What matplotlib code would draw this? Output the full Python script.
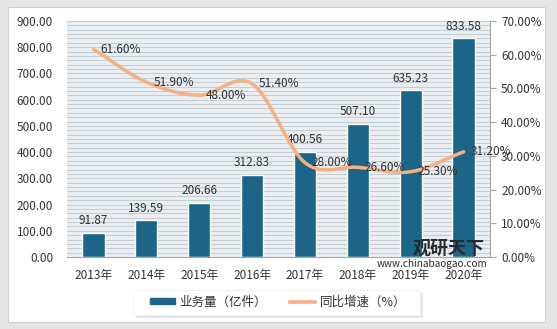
import numpy as np
import matplotlib
matplotlib.use("Agg")
import matplotlib.pyplot as plt
from matplotlib.patches import Rectangle
from matplotlib.lines import Line2D
from matplotlib.patches import Patch

plt.rcParams['font.family'] = ['Noto Sans CJK SC', 'DejaVu Sans']

years = ["2013年", "2014年", "2015年", "2016年", "2017年", "2018年", "2019年", "2020年"]
volume = [91.87, 139.59, 206.66, 312.83, 400.56, 507.10, 635.23, 833.58]
growth = [61.60, 51.90, 48.00, 51.40, 28.00, 26.60, 25.30, 31.20]
left_ticks = [0, 100, 200, 300, 400, 500, 600, 700, 800, 900]
right_ticks = [0, 10, 20, 30, 40, 50, 60, 70]

bar_color = "#1b6688"
line_color = "#f5b083"
text_color = "#333333"

W, H = 557, 329
fig = plt.figure(figsize=(W / 100, H / 100), dpi=100)
fig.patch.set_facecolor("#e4e4e4")
bg = Rectangle((8 / W, 1 - 322 / H), (545 - 8) / W, (322 - 7) / H,
               transform=fig.transFigure, facecolor="white",
               edgecolor="#d0d0d0", lw=0.8, zorder=-10)
fig.patches.append(bg)

ax = fig.add_axes([67 / W, 1 - 257 / H, (490 - 67) / W, (257 - 21) / H])
ax.set_facecolor("#e8eef2")
x = np.arange(len(years))

# dense horizontal background lines
for v in np.arange(0, 900.01, 100 / 6):
    ax.axhline(v, color="#c3ccd3", lw=0.7, zorder=0)

ax.bar(x, volume, width=0.42, color=bar_color, edgecolor="white", lw=1.0, zorder=2)
for xi, v in zip(x, volume):
    ax.annotate(f"{v:.2f}", (xi, v), xytext=(0, 4), textcoords="offset points",
                ha="center", va="bottom", fontsize=8.5, color=text_color, zorder=5)

ax.set_xlim(-0.5, len(years) - 0.5)
ax.set_ylim(0, 900)
ax.set_yticks(left_ticks)
ax.set_yticklabels([f"{t:.2f}" for t in left_ticks], fontsize=8.5, color=text_color)
ax.set_xticks(x)
ax.set_xticklabels(years, fontsize=8.5, color=text_color)
ax.tick_params(axis="y", length=0, pad=10)
ax.tick_params(axis="x", length=0, pad=9)
for s in ["top", "right", "left"]:
    ax.spines[s].set_visible(False)
ax.spines["bottom"].set_color("#a6a6a6")

ax2 = ax.twinx()
ax2.set_ylim(0, 70)
ax2.set_yticks(right_ticks)
ax2.set_yticklabels([f"{t:.2f}%" for t in right_ticks], fontsize=8.5, color=text_color)
ax2.tick_params(axis="y", length=4, color="#a6a6a6", pad=4)
for s in ["top", "left", "bottom"]:
    ax2.spines[s].set_visible(False)
ax2.spines["right"].set_color("#a6a6a6")

# smoothed line (Catmull-Rom through the data points)
def catmull(xs, ys, n=30):
    px = np.concatenate([[2 * xs[0] - xs[1]], xs, [2 * xs[-1] - xs[-2]]])
    py = np.concatenate([[2 * ys[0] - ys[1]], ys, [2 * ys[-1] - ys[-2]]])
    ox, oy = [], []
    for i in range(1, len(px) - 2):
        t = np.linspace(0, 1, n, endpoint=False)
        for arr, out in ((px, ox), (py, oy)):
            p0, p1, p2, p3 = arr[i - 1], arr[i], arr[i + 1], arr[i + 2]
            out.extend(0.5 * ((2 * p1) + (-p0 + p2) * t + (2 * p0 - 5 * p1 + 4 * p2 - p3) * t ** 2
                              + (-p0 + 3 * p1 - 3 * p2 + p3) * t ** 3))
    ox.append(px[-2]); oy.append(py[-2])
    return np.array(ox), np.array(oy)

sx, sy = catmull(x.astype(float), np.array(growth, dtype=float))
ax2.plot(sx, sy, color=line_color, lw=2.5, solid_capstyle="round", zorder=3)
for xi, g in zip(x, growth):
    ax2.annotate(f"{g:.2f}%", (xi, g), xytext=(5, 0), textcoords="offset points",
                 ha="left", va="center", fontsize=8.5, color=text_color, zorder=5)

# watermark
fig.text(449 / W, 1 - 248 / H, "观研天下", fontsize=13, fontweight="bold", color="#2a2a2a",
         ha="center", va="center", zorder=6)
fig.text(432 / W, 1 - 264 / H, "www.chinabaogao.com", fontsize=7.2, color="#2a2a2a",
         ha="center", va="center", zorder=6)

# legend box with a soft shadow
fig.patches.append(Rectangle((136 / W, 1 - 318 / H), (420 - 133) / W, 25 / H,
                             transform=fig.transFigure, facecolor="#e6e6e6",
                             edgecolor="none", zorder=1))
fig.patches.append(Rectangle((133 / W, 1 - 315 / H), (420 - 133) / W, 25 / H,
                             transform=fig.transFigure, facecolor="white",
                             edgecolor="#ececec", lw=0.6, zorder=2))

handles = [Patch(facecolor=bar_color, edgecolor=bar_color),
           Line2D([0], [0], color=line_color, lw=2.6)]
leg = fig.legend(handles, ["业务量（亿件）", "同比增速（%）"], loc="center",
                 bbox_to_anchor=(278 / W, 1 - 302 / H), ncol=2, fontsize=9,
                 frameon=False, columnspacing=1.8,
                 handlelength=2.0, handleheight=0.45, handletextpad=0.4)
leg.set_zorder(5)
for t in leg.get_texts():
    t.set_color(text_color)

fig.savefig("out.png", dpi=100, facecolor=fig.get_facecolor())
